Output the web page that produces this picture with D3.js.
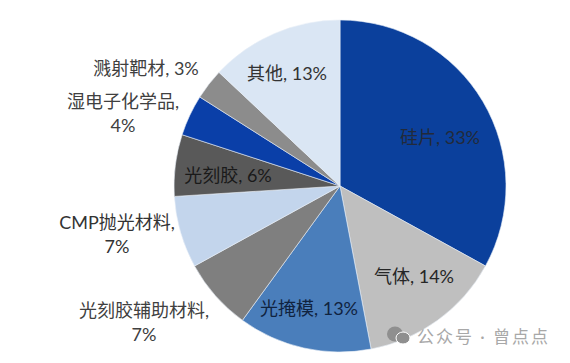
<!DOCTYPE html>
<html>
<head>
<meta charset="utf-8">
<script src="https://cdn.jsdelivr.net/npm/d3@7"></script>
<style>
  html, body { margin: 0; padding: 0; background: #fff; }
  text { font-family: Lato, "Noto Sans CJK SC", sans-serif; }
</style>
</head>
<body>
<div id="chart"></div>
<script>
// values, clockwise from 12 o'clock
const names = ["硅片", "气体", "光掩模", "光刻胶辅助材料", "CMP抛光材料", "光刻胶", "湿电子化学品", "溅射靶材", "其他"];
const shares = [33, 14, 13, 7, 7, 6, 4, 3, 13];
const colors = ["#0b409c", "#bfbfbf", "#4a7ebb", "#7f7f7f", "#c3d5ec", "#595959", "#0a3fa8", "#8c8c8c", "#dae6f4"];
const textColors = ["#222a3a", "#262626", "#10233f", "#404040", "#333333", "#1a1a1a", "#404040", "#404040", "#333333"];
// labels that wrap the value on to a second line
const wrapped = [false, false, false, true, true, false, true, false, false];

const width = 570,
  height = 363,
  cx = 340,
  cy = 186,
  radius = 166;

// label centres, relative to pie centre
const labelAt = [[100, -48], [74, 91], [-31, 123], [-196, 137], [-223, 49], [-112, -10], [-217, -72], [-194, -117], [-53, -112]];

const svg = d3.select("#chart")
  .append("svg")
  .attr("width", width)
  .attr("height", height)
  .style("display", "block");

const pie = d3.pie().sort(null).value(d => d);
const arc = d3.arc().innerRadius(0).outerRadius(radius);

const g = svg.append("g").attr("transform", `translate(${cx},${cy})`);

g.selectAll("path")
  .data(pie(shares))
  .join("path")
  .attr("d", arc)
  .attr("fill", (d, i) => colors[i])
  .attr("stroke", "#e8eef6")
  .attr("stroke-width", 0.6);

const labels = g.selectAll("text")
  .data(names)
  .join("text")
  .attr("text-anchor", "middle")
  .attr("font-size", 18)
  .attr("fill", (d, i) => textColors[i])
  .attr("transform", (d, i) => `translate(${labelAt[i][0]},${labelAt[i][1]})`);

labels.each(function (d, i) {
  const t = d3.select(this);
  if (wrapped[i]) {
    t.append("tspan").attr("x", 0).attr("y", -6).text(d + ",");
    t.append("tspan").attr("x", 0).attr("y", 18).text(shares[i] + "%");
  } else {
    t.append("tspan").attr("x", 0).attr("y", 6).text(d + ", " + shares[i] + "%");
  }
});

// watermark
const mark = svg.append("g").attr("fill", "#8f8f8f");
mark.append("ellipse").attr("cx", 395).attr("cy", 334).attr("rx", 8).attr("ry", 7.5);
mark.append("ellipse").attr("cx", 403).attr("cy", 338).attr("rx", 7).attr("ry", 6).attr("stroke", "#fff").attr("stroke-width", 1);
svg.append("text")
  .attr("x", 417)
  .attr("y", 343)
  .attr("font-size", 17)
  .attr("fill", "#a8a8a8")
  .style("letter-spacing", "2px")
  .text("公众号 · 曾点点");
</script>
</body>
</html>
